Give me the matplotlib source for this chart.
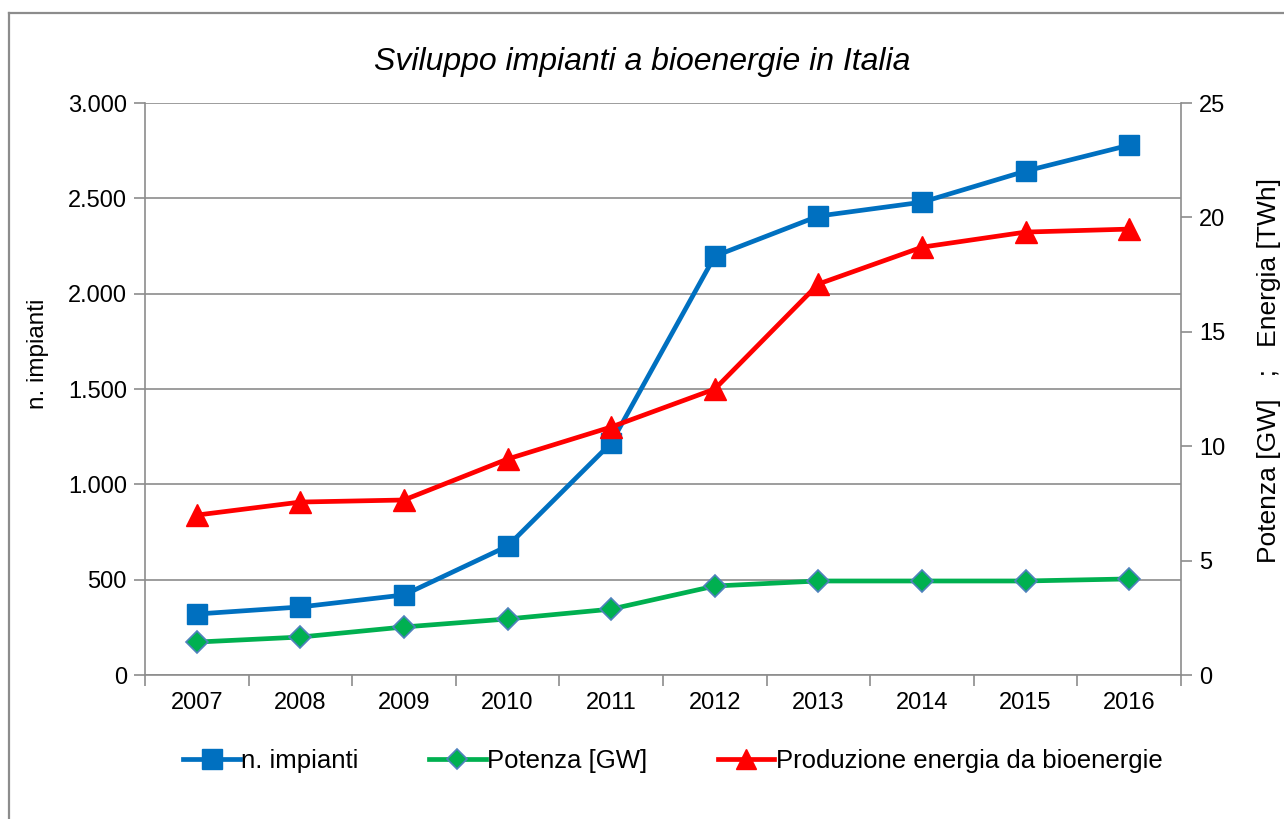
import matplotlib.pyplot as plt
from matplotlib.lines import Line2D
from matplotlib.ticker import FuncFormatter, MultipleLocator

plt.rcParams["font.family"] = ["Liberation Sans", "DejaVu Sans"]

years = ["2007", "2008", "2009", "2010", "2011", "2012", "2013", "2014", "2015", "2016"]
n_impianti = [320, 357, 420, 676, 1217, 2197, 2407, 2480, 2643, 2779]
potenza_gw = [1.44, 1.66, 2.10, 2.45, 2.88, 3.89, 4.11, 4.11, 4.11, 4.20]
energia_twh = [6.99, 7.56, 7.65, 9.44, 10.84, 12.50, 17.09, 18.70, 19.36, 19.49]

BLUE = "#0070C0"
GREEN = "#00B050"
RED = "#FF0000"
GRID = "#8c8c8c"

fig = plt.figure(figsize=(12.84, 8.19), dpi=100)
fig.patch.set_facecolor("white")
ax = fig.add_axes([0.1129, 0.1758, 0.8069, 0.6984])
ax2 = ax.twinx()

x = list(range(len(years)))
ax.plot(x, n_impianti, color=BLUE, lw=3.4, marker="s", ms=15, mfc=BLUE, mec=BLUE, zorder=3)
ax2.plot(x, potenza_gw, color=GREEN, lw=3.4, marker="D", ms=11.5, mfc=GREEN, mec="#4F81BD", mew=1.2, zorder=3)
ax2.plot(x, energia_twh, color=RED, lw=3.4, marker="^", ms=16, mfc=RED, mec=RED, zorder=3)

ax.set_xlim(-0.5, len(years) - 0.5)
ax.set_ylim(0, 3000)
ax2.set_ylim(0, 25)
ax.yaxis.set_major_locator(MultipleLocator(500))
ax2.yaxis.set_major_locator(MultipleLocator(5))
ax.yaxis.set_major_formatter(FuncFormatter(lambda v, p: f"{int(v):,}".replace(",", ".")))
ax.yaxis.grid(True, color=GRID, lw=1.2)
ax.set_axisbelow(True)

ax.set_xticks(x)
ax.set_xticklabels(years)
ax.set_xticks([i - 0.5 for i in range(len(years) + 1)], minor=True)
ax.tick_params(axis="x", which="major", length=0, pad=12, labelsize=17)
ax.tick_params(axis="x", which="minor", length=8, color=GRID, width=1.2, direction="out")
ax.tick_params(axis="y", length=8, color=GRID, width=1.2, labelsize=17, pad=5)
ax2.tick_params(axis="y", length=8, color=GRID, width=1.2, labelsize=17, pad=5)

for a in (ax, ax2):
    for s in a.spines.values():
        s.set_visible(False)
        s.set_color(GRID)
        s.set_linewidth(1.2)
ax.spines["left"].set_visible(True)
ax.spines["bottom"].set_visible(True)
ax2.spines["right"].set_visible(True)

ax.set_ylabel("n. impianti", fontsize=17.5)
ax.yaxis.set_label_coords(-0.093, 0.561)
ax2.set_ylabel("Potenza [GW]   ;   Energia [TWh]", fontsize=19)
ax2.yaxis.set_label_coords(1.073, 0.533)

fig.text(0.5, 0.924, "Sviluppo impianti a bioenergie in Italia", ha="center", va="center",
         fontsize=23, style="italic")

handles = [
    Line2D([], [], color=BLUE, lw=3.4, marker="s", ms=14, mfc=BLUE, mec=BLUE),
    Line2D([], [], color=GREEN, lw=3.4, marker="D", ms=10.5, mfc=GREEN, mec="#4F81BD", mew=1.2),
    Line2D([], [], color=RED, lw=3.4, marker="^", ms=15, mfc=RED, mec=RED),
]
labels = ["n. impianti", "Potenza [GW]", "Produzione energia da bioenergie"]
fig.legend(handles, labels, loc="center", bbox_to_anchor=(0.524, 0.071), ncol=3, frameon=False,
           fontsize=18.5, handlelength=2.2, handletextpad=0.05, columnspacing=2.75)

# outer chart frame
fig.add_artist(Line2D([9 / 1284, 9 / 1284], [0, 1 - 13 / 819], color=GRID, lw=1.6, transform=fig.transFigure))
fig.add_artist(Line2D([9 / 1284, 1], [1 - 13 / 819, 1 - 13 / 819], color=GRID, lw=1.6, transform=fig.transFigure))

fig.savefig("out.png", dpi=100, facecolor="white")
